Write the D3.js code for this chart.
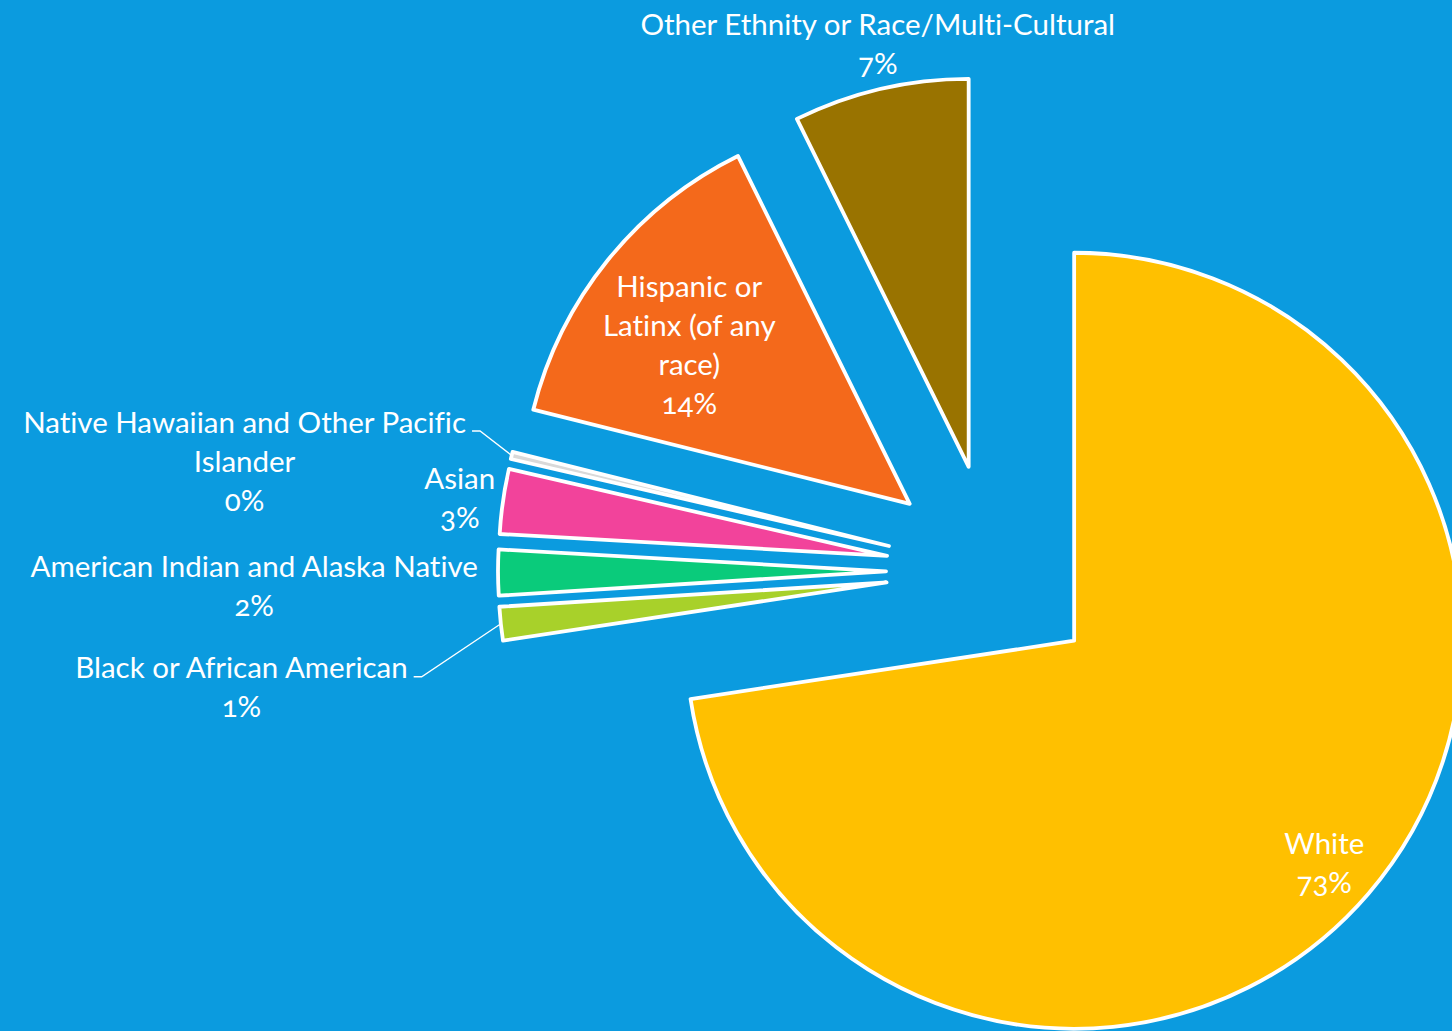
<!DOCTYPE html>
<html lang="en">
<head>
<meta charset="UTF-8">
<script src="https://d3js.org/d3.v7.min.js"></script>
<title>Population by ethnicity or race</title>
<style>
  html, body { margin: 0; padding: 0; background: #0b9bdf; }
  svg { display: block; }
  text { font-family: Lato, "Open Sans", sans-serif; fill: #fff; font-feature-settings: "onum", "liga" 0; font-variant-ligatures: none; }
</style>
</head>
<body>
<script>
// --- data ---
const categories = [
  "White",
  "Black or African American",
  "American Indian and Alaska Native",
  "Asian",
  "Native Hawaiian and Other Pacific Islander",
  "Hispanic or Latinx (of any race)",
  "Other Ethnity or Race/Multi-Cultural"
];
const shares = [72.6, 1.4, 1.9, 2.7, 0.3, 13.8, 7.3];
const pctLabels = ["73%", "1%", "2%", "3%", "0%", "14%", "7%"];
const labelLines = [
  ["White"],
  ["Black or African American"],
  ["American Indian and Alaska Native"],
  ["Asian"],
  ["Native Hawaiian and Other Pacific", "Islander"],
  ["Hispanic or", "Latinx (of any", "race)"],
  ["Other Ethnity or Race/Multi-Cultural"]
];
const colors = ["#FFC000", "#A8D12A", "#0ACB7B", "#F2439B", "#D9D9D9", "#F4691B", "#997300"];

// --- layout ---
const width = 1452, height = 1031;
const cx = 993, cy = 571;
const radius = 388, explode = 107;
const fontSize = 29.5, lineH = 39;

// where each label sits: fraction of radius along the slice middle,
// "center" = block centred there, "end" = block's right edge there
const labelLayout = [
  { k: 0.85, mode: "center", nudge: [0, 6] },
  { k: 1.06, mode: "end", nudge: [-70, 60], leader: true },
  { k: 1.044, mode: "end", nudge: [-3, 12] },
  { k: 1.02, mode: "end", nudge: [0, -3] },
  { k: 1.06, mode: "end", nudge: [-23, 10], leader: true },
  { k: 0.70, mode: "center", nudge: [-9, 11] },
  { k: 1.11, mode: "center", nudge: [7, -4] }
];

const svg = d3.select("body").append("svg")
  .attr("width", width)
  .attr("height", height);

const pie = d3.pie().sort(null).value(d => d);
const arcs = pie(shares);
const arc = d3.arc().innerRadius(0).outerRadius(radius);

const dir = a => [Math.sin(a), -Math.cos(a)];
const mid = d => (d.startAngle + d.endAngle) / 2;
const apex = d => {
  const [ux, uy] = dir(mid(d));
  return [cx + explode * ux, cy + explode * uy];
};

svg.append("g").selectAll("path")
  .data(arcs)
  .join("path")
  .attr("transform", d => `translate(${apex(d)})`)
  .attr("d", arc)
  .attr("fill", (d, i) => colors[i])
  .attr("stroke", "#fff")
  .attr("stroke-width", 3.8)
  .attr("stroke-linejoin", "round");

// labels
const labels = svg.append("g");
arcs.forEach((d, i) => {
  const lay = labelLayout[i];
  const [ax, ay] = apex(d);
  const [ux, uy] = dir(mid(d));
  const px = ax + lay.k * radius * ux + lay.nudge[0];
  const py = ay + lay.k * radius * uy + lay.nudge[1];
  const lines = labelLines[i].concat([pctLabels[i]]);

  const g = labels.append("g");
  const texts = g.selectAll("text")
    .data(lines)
    .join("text")
    .attr("text-anchor", "middle")
    .attr("dominant-baseline", "central")
    .attr("font-size", fontSize)
    .text(t => t);

  const blockW = d3.max(texts.nodes(), n => n.getComputedTextLength());
  const centerX = lay.mode === "end" ? px - blockW / 2 : px;
  const top = py - (lines.length - 1) * lineH / 2;
  texts.attr("x", centerX).attr("y", (t, j) => top + j * lineH);

  if (lay.leader) {
    const sx = centerX + blockW / 2 + 6;
    const sy = top + 10;
    const ex = ax + radius * ux, ey = ay + radius * uy;
    labels.append("path")
      .attr("d", d3.line()([[sx, sy], [sx + 8, sy], [ex, ey]]))
      .attr("fill", "none")
      .attr("stroke", "#fff")
      .attr("stroke-width", 1.3);
  }
});
</script>
</body>
</html>
